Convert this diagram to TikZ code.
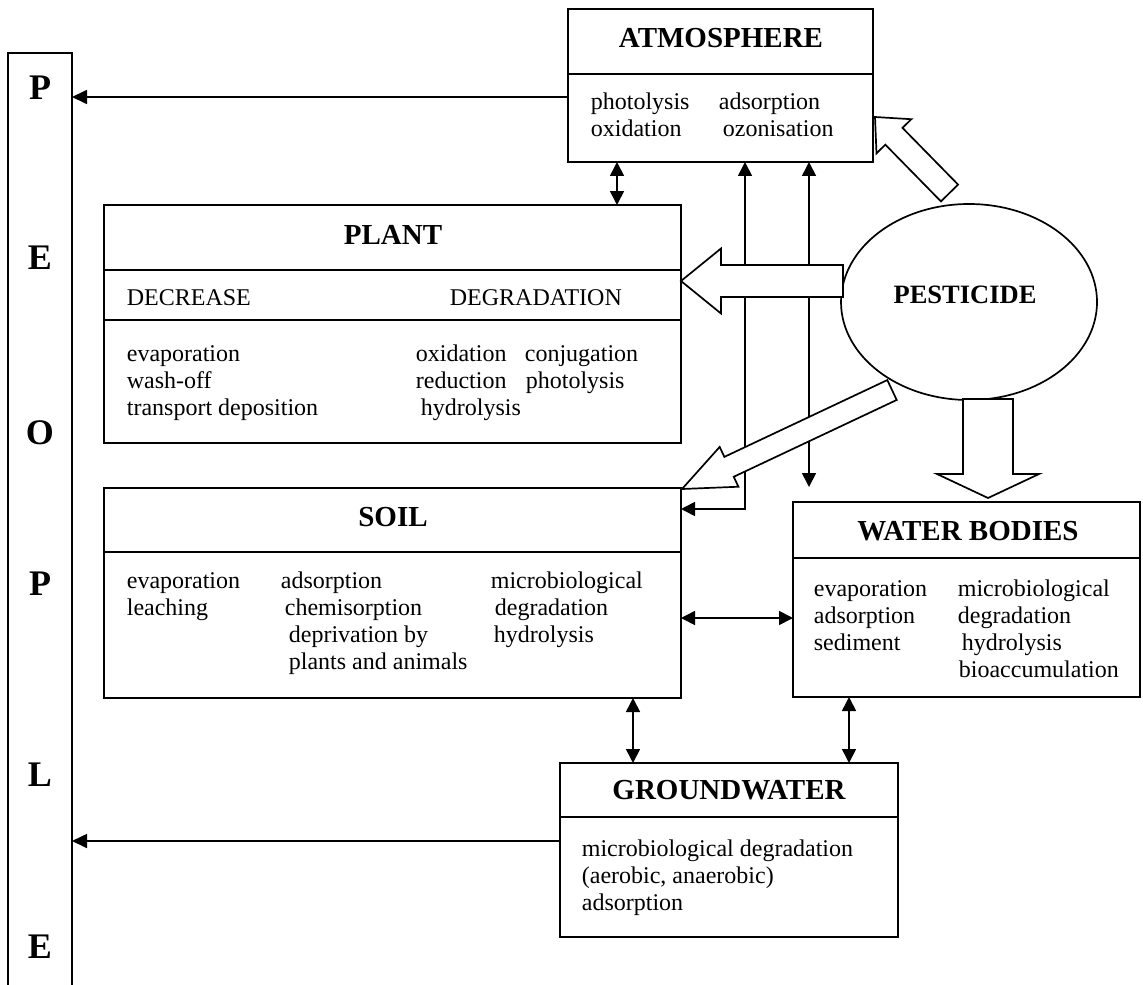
\documentclass[tikz,border=0pt]{standalone}
\usepackage{fontspec}
\setmainfont{Liberation Serif}
\usetikzlibrary{arrows.meta,calc,fit,shapes.geometric}
\newcommand\txtline[4]{\node[txt] (#1) at (#2,#3) {#4};}
\newcommand\hollowarrow[5]{%
  \coordinate (hb) at ($(#2)!#5!(#1)$);
  \draw[hollow] ($(#1)!#3!90:(#2)$) -- ($(hb)!#3!90:(#2)$) -- ($(hb)!#4!90:(#2)$) -- (#2)
    -- ($(hb)!#4!-90:(#2)$) -- ($(hb)!#3!-90:(#2)$) -- ($(#1)!#3!-90:(#2)$) -- cycle;}
\begin{document}
\begin{tikzpicture}[x=0.5pt,y=-0.5pt,line width=0.85pt,
  box/.style={draw,inner sep=0pt,outer sep=0pt,fit={#1}},
  ttl/.style={font=\fontsize{14.5}{17}\selectfont\bfseries,inner sep=0pt},
  txt/.style={font=\fontsize{12}{13.5}\selectfont,anchor=base west,inner sep=0pt},
  ppl/.style={font=\fontsize{18}{20}\selectfont\bfseries,inner sep=0pt},
  arr/.style={-{Triangle[length=7.5pt,width=7pt]}},
  darr/.style={{Triangle[length=7pt,width=7pt]}-{Triangle[length=7pt,width=7pt]}},
  hollow/.style={draw,fill=white,line join=miter}]
\useasboundingbox (0,0) rectangle (1143,984);
\clip (0,0) rectangle (1143,984);

% boxes
\node[box={(568,9) (873,162)}] (atm) {};
\node[box={(104,205) (681,443)}] (plant) {};
\node[box={(104,488) (681,698)}] (soil) {};
\node[box={(793,502) (1140,697)}] (water) {};
\node[box={(560,763) (898,937)}] (gw) {};
\node[box={(8,53) (72,1000)}] (people) {};
\node[draw,ellipse,minimum width=128pt,minimum height=98pt,inner sep=0pt,outer sep=0pt] (pest) at (969,302) {};

% dividers
\draw ($(atm.north west)+(0,65)$) -- ($(atm.north east)+(0,65)$);
\draw ($(plant.north west)+(0,65)$) -- ($(plant.north east)+(0,65)$);
\draw ($(plant.north west)+(0,115)$) -- ($(plant.north east)+(0,115)$);
\draw ($(soil.north west)+(0,64)$) -- ($(soil.north east)+(0,64)$);
\draw ($(water.north west)+(0,56)$) -- ($(water.north east)+(0,56)$);
\draw ($(gw.north west)+(0,54)$) -- ($(gw.north east)+(0,54)$);

% titles
\node[ttl] (atmT) at (721,38) {ATMOSPHERE};
\node[ttl] (plantT) at (393,235) {PLANT};
\node[ttl] (soilT) at (393,517) {SOIL};
\node[ttl] (waterT) at (968,531) {WATER BODIES};
\node[ttl] (gwT) at (729,790) {GROUNDWATER};
\node[font=\fontsize{13.25}{16}\selectfont\bfseries,inner sep=0pt] (pestT) at (965,295) {PESTICIDE};

% PEOPLE
\node[ppl] (pp1) at (40,88) {P};
\node[ppl] (pp2) at (40,258) {E};
\node[ppl] (pp3) at (40,433) {O};
\node[ppl] (pp4) at (40,584) {P};
\node[ppl] (pp5) at (40,775) {L};
\node[ppl] (pp6) at (40,947) {E};

% atmosphere text
\txtline{at1}{590}{110}{photolysis}
\txtline{at2}{590}{137}{oxidation}
\txtline{at3}{718}{110}{adsorption}
\txtline{at4}{722}{137}{ozonisation}

% plant text
\txtline{pl1}{126}{305}{DECREASE}
\txtline{pl2}{449}{305}{DEGRADATION}
\txtline{pl3}{126}{361}{evaporation}
\txtline{pl4}{126}{388}{wash-off}
\txtline{pl5}{126}{415}{transport deposition}
\txtline{pl6}{415}{361}{oxidation}
\txtline{pl7}{524}{361}{conjugation}
\txtline{pl8}{415}{388}{reduction}
\txtline{pl9}{525}{388}{photolysis}
\txtline{pl10}{420}{415}{hydrolysis}

% soil text
\txtline{so1}{126}{588}{evaporation}
\txtline{so2}{126}{615}{leaching}
\txtline{so3}{280}{588}{adsorption}
\txtline{so4}{284}{615}{chemisorption}
\txtline{so5}{288}{642}{deprivation by}
\txtline{so6}{288}{669}{plants and animals}
\txtline{so7}{490}{588}{microbiological}
\txtline{so8}{494}{615}{degradation}
\txtline{so9}{493}{642}{hydrolysis}

% water text
\txtline{wa1}{813}{596}{evaporation}
\txtline{wa2}{813}{623}{adsorption}
\txtline{wa3}{813}{650}{sediment}
\txtline{wa4}{957}{596}{microbiological}
\txtline{wa5}{957}{623}{degradation}
\txtline{wa6}{961}{650}{hydrolysis}
\txtline{wa7}{958}{677}{bioaccumulation}

% groundwater text
\txtline{gw1}{581}{856}{microbiological degradation}
\txtline{gw2}{581}{883}{(aerobic, anaerobic)}
\txtline{gw3}{581}{910}{adsorption}

% connectors
\coordinate (ca) at ($(atm.north west)+(0,88)$);
\draw[arr] (ca) -- (ca -| people.east);
\coordinate (cg) at ($(gw.north west)+(0,78)$);
\draw[arr] (cg) -- (cg -| people.east);
\coordinate (c1) at ($(atm.south west)+(49,0)$);
\draw[darr] (c1) -- (c1 |- plant.north);
\coordinate (c2) at ($(atm.south west)+(177,0)$);
\coordinate (s1) at ($(soil.north east)+(0,21)$);
\draw[darr] (c2) |- (s1);
\coordinate (c3) at ($(atm.south west)+(241,0)$);
\draw[darr,shorten >=7.5pt] (c3) -- (c3 |- water.north);
\coordinate (s2) at ($(soil.north east)+(0,130)$);
\draw[darr] (s2) -- (s2 -| water.west);
\coordinate (s3) at ($(soil.south west)+(529,0)$);
\draw[darr] (s3) -- (s3 |- gw.north);
\coordinate (w1) at ($(water.south west)+(56,0)$);
\draw[darr] (w1) -- (w1 |- gw.north);

% hollow arrows from pesticide
\coordinate (tA) at ($(pest.center)+(-19.5,-109)$);
\coordinate (hA) at ($(atm.north east)+(2,108)$);
\hollowarrow{tA}{hA}{6pt}{12.2pt}{13.5pt}
\coordinate (tB) at ($(pest.center)+(-126,-21)$);
\coordinate (hB) at ($(plant.north east)+(0,76)$);
\hollowarrow{tB}{hB}{8pt}{16.25pt}{20pt}
\coordinate (tC) at ($(pest.center)+(-77,88)$);
\coordinate (hC) at ($(soil.north east)+(1,1)$);
\hollowarrow{tC}{hC}{5.5pt}{11pt}{26pt}
\coordinate (tD) at ($(pest.south)+(19,-1)$);
\coordinate (hD) at ($(water.north west)+(195,-4)$);
\hollowarrow{tD}{hD}{12.5pt}{25.5pt}{12pt}
\end{tikzpicture}
\end{document}
